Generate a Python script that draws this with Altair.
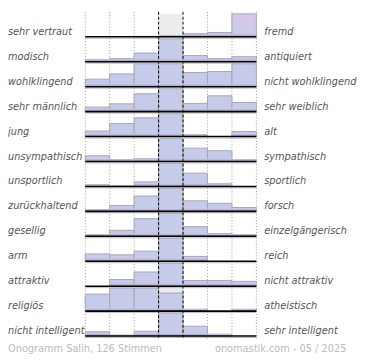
import altair as alt
import pandas as pd

left_labels = ["sehr vertraut", "modisch", "wohlklingend", "sehr männlich", "jung",
               "unsympathisch", "unsportlich", "zurückhaltend", "gesellig", "arm",
               "attraktiv", "religiös", "nicht intelligent"]
right_labels = ["fremd", "antiquiert", "nicht wohlklingend", "sehr weiblich", "alt",
                "sympathisch", "sportlich", "forsch", "einzelgängerisch", "reich",
                "nicht attraktiv", "atheistisch", "sehr intelligent"]
# relative share per bin (row maximum = 100), 7 bins from left pole to right pole
values = [
    [0, 0, 2, 6, 14, 19, 100],
    [10, 14, 38, 100, 27, 14, 22],
    [33, 56, 100, 100, 62, 66, 100],
    [20, 34, 78, 100, 36, 69, 40],
    [24, 57, 82, 100, 8, 0, 22],
    [25, 8, 12, 100, 58, 47, 8],
    [8, 4, 20, 100, 58, 12, 0],
    [8, 26, 67, 100, 46, 35, 17],
    [7, 26, 77, 100, 42, 12, 8],
    [32, 28, 44, 100, 21, 0, 0],
    [0, 29, 62, 100, 25, 25, 21],
    [74, 100, 100, 79, 8, 0, 8],
    [19, 4, 21, 100, 43, 8, 0],
]
footer_left = "Onogramm Salih, 126 Stimmen"
footer_right = "onomastik.com - 05 / 2025"

FULL = 0.92   # share of a row used by a 100 % bar
BAND = 0.12   # purple foot of each bar
n = len(values)

rows = []
for r, vs in enumerate(values):
    rmax = max(vs)
    for b, v in enumerate(vs):
        h = v / rmax * FULL
        rows.append({"r": r, "b": b, "b2": b + 1, "v": v, "base": r + 1,
                     "top": r + 1 - h, "band": r + 1 - min(h, BAND),
                     "hl": (r == 0 and v == rmax)})
df = pd.DataFrame(rows)
bars = df[(df.v > 0) & (~df.hl)]
hl = df[df.hl]

lab = pd.DataFrame({"r": list(range(n)), "base": [i + 1 for i in range(n)],
                    "left": left_labels, "right": right_labels})
bg = pd.DataFrame({"b": [3] * n, "b2": [4] * n, "base": [i + 1 for i in range(n)],
                   "top": [i + 1 - FULL for i in range(n)]})
dots = pd.DataFrame({"b": [0, 1, 2, 5, 6, 7]})
dashes = pd.DataFrame({"b": [3, 4]})

xs = alt.Scale(domain=[0, 7], range=[79, 254])
ys = alt.Scale(domain=[0, 13], range=[0, 331.5])

X = lambda f: alt.X(f, type="quantitative", scale=xs, axis=None)
Y = lambda f: alt.Y(f, type="quantitative", scale=ys, axis=None)

bg_layer = alt.Chart(bg).mark_rect(fill="#ececec").encode(
    x=X("b"), x2="b2", y=Y("top"), y2="base")

dot_layer = alt.Chart(dots).mark_rule(color="#999999", strokeDash=[1, 2], strokeWidth=1).encode(
    x=X("b"), y=alt.value(0), y2=alt.value(334))

bar_layer = alt.Chart(bars).mark_rect(fill="#c5cbe9", stroke="#a8a8a8", strokeWidth=1).encode(
    x=X("b"), x2="b2", y=Y("top"), y2="base")

hl_grad = alt.LinearGradient(gradient="linear",
                             stops=[alt.GradientStop(color="#dcc6e6", offset=0),
                                    alt.GradientStop(color="#c5cbe9", offset=1)],
                             x1=0, x2=0, y1=0, y2=1)
hl_layer = alt.Chart(hl).mark_rect(fill=hl_grad, stroke="#a8a8a8", strokeWidth=1).encode(
    x=X("b"), x2="b2", y=Y("top"), y2="base")

band_grad = alt.LinearGradient(gradient="linear",
                               stops=[alt.GradientStop(color="#c5cbe9", offset=0),
                                      alt.GradientStop(color="#a595cb", offset=1)],
                               x1=0, x2=0, y1=0, y2=1)
band_layer = alt.Chart(df[df.v > 0]).mark_rect(fill=band_grad).encode(
    x=X("b"), x2="b2", y=Y("band"), y2="base")

shadow_layer = alt.Chart(lab).mark_rule(color="#bbbbbb", strokeWidth=1, yOffset=1.5).encode(
    x=alt.value(79), x2=alt.value(254), y=Y("base"))
base_layer = alt.Chart(lab).mark_rule(color="#000000", strokeWidth=1.6).encode(
    x=alt.value(79), x2=alt.value(254), y=Y("base"))

dash_layer = alt.Chart(dashes).mark_rule(color="#000000", strokeDash=[3, 2], strokeWidth=1).encode(
    x=X("b"), y=alt.value(0), y2=alt.value(334))

txt = dict(baseline="middle", font="DejaVu Sans", fontSize=10, fontStyle="italic",
           color="#555555", dy=-5)
left_layer = alt.Chart(lab).mark_text(align="left", **txt).encode(
    x=alt.value(0), y=Y("base"), text="left:N")
right_layer = alt.Chart(lab).mark_text(align="left", **txt).encode(
    x=alt.value(262), y=Y("base"), text="right:N")

foot = pd.DataFrame({"l": [footer_left], "r": [footer_right]})
fl = alt.Chart(foot).mark_text(align="left", baseline="middle", font="DejaVu Sans",
                               fontSize=10, color="#bbbbbb").encode(
    x=alt.value(0), y=alt.value(345), text="l:N")
fr = alt.Chart(foot).mark_text(align="right", baseline="middle", font="DejaVu Sans",
                               fontSize=10, color="#bbbbbb").encode(
    x=alt.value(346), y=alt.value(345), text="r:N")

chart = alt.layer(bg_layer, dot_layer, bar_layer, hl_layer, band_layer, shadow_layer,
                  base_layer, dash_layer, left_layer, right_layer, fl, fr).properties(
    width=362, height=352, autosize=alt.AutoSizeParams(type="none"), padding=0
).configure_view(strokeWidth=0)

chart.save("out.html", embed_options={"renderer": "svg", "actions": False})
